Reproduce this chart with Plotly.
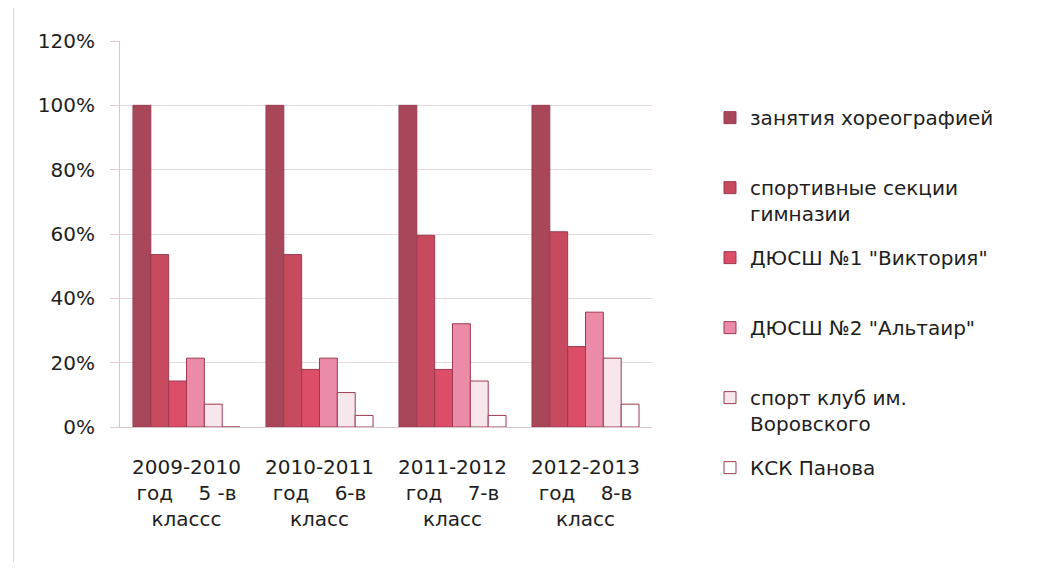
import plotly.graph_objects as go

categories = [
    "2009-2010<br>год\u00a0\u00a0\u00a0\u00a05 -в<br>классс",
    "2010-2011<br>год\u00a0\u00a0\u00a0\u00a06-в<br>класс",
    "2011-2012<br>год\u00a0\u00a0\u00a0\u00a07-в<br>класс",
    "2012-2013<br>год\u00a0\u00a0\u00a0\u00a08-в<br>класс",
]
series_names = [
    "занятия хореографией",
    "спортивные секции<br>гимназии",
    "ДЮСШ №1 \"Виктория\"",
    "ДЮСШ №2 \"Альтаир\"",
    "спорт клуб им.<br>Воровского",
    "КСК Панова",
]
choreography = [1.00, 1.00, 1.00, 1.00]
school_sections = [0.536, 0.536, 0.596, 0.607]
dyussh1 = [0.143, 0.179, 0.179, 0.25]
dyussh2 = [0.214, 0.214, 0.321, 0.357]
vorovsky = [0.071, 0.107, 0.143, 0.214]
panova = [0.0, 0.036, 0.036, 0.071]

values = [choreography, school_sections, dyussh1, dyussh2, vorovsky, panova]
colors = ["#a8465a", "#c84a5f", "#dc4d68", "#ec8ba8", "#f8e6ed", "#ffffff"]

fig = go.Figure()
for i, (name, vals, col) in enumerate(zip(series_names, values, colors)):
    last = i == len(series_names) - 1
    label = name if ("<br>" in name or last) else name + "<br>\u00a0"
    fig.add_trace(go.Bar(
        x=categories, y=vals, name=label,
        marker=dict(color=col, line=dict(color="#9c3a50", width=1)),
        legendgroup=name,
    ))

fig.update_layout(
    width=1030, height=562,
    paper_bgcolor="white", plot_bgcolor="white",
    barmode="group", bargap=0.195, bargroupgap=0,
    margin=dict(l=112, r=386, t=33, b=143, autoexpand=False),
    font=dict(family="DejaVu Sans, sans-serif", size=20, color="#1e1e1e"),
    legend=dict(
        x=1.109, y=0.852, xanchor="left", yanchor="top",
        font=dict(size=20), valign="top", tracegroupgap=15,
        itemwidth=30, traceorder="grouped", maxheight=500,
    ),
    yaxis=dict(
        range=[0, 1.2], dtick=0.2, tickformat=".0%",
        showgrid=True, gridcolor="#ead9de", gridwidth=1,
        showline=True, linecolor="#d8c8cc", linewidth=1,
        ticks="outside", ticklen=9, tickcolor="#e0ccd2",
        zeroline=False, tickfont=dict(size=20), ticklabelstandoff=11,
    ),
    xaxis=dict(
        showline=True, linecolor="#d8c8cc", linewidth=1,
        ticks="", tickfont=dict(size=20), tickangle=0,
        ticklabelstandoff=22,
    ),
    shapes=[
        dict(type="line", xref="paper", yref="paper",
             x0=-0.2, x1=1.74, y0=1.09, y1=1.09,
             line=dict(color="#e8bfcb", width=1)),
        dict(type="line", xref="paper", yref="paper",
             x0=-0.2, x1=-0.2, y0=-0.35, y1=1.09,
             line=dict(color="#ecc8d2", width=1)),
    ],
)

fig.write_html("out.html")
